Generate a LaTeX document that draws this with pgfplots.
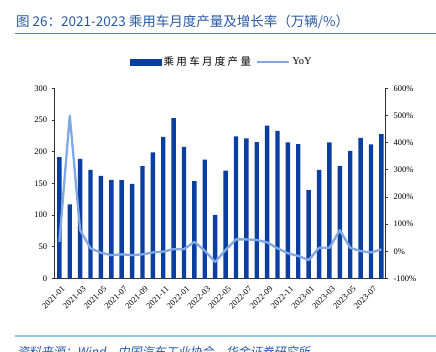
\documentclass[border=0pt]{standalone}
\usepackage{fontspec}
\setmainfont{Liberation Serif}
\newfontfamily\cjk{Noto Sans CJK SC}
\newfontfamily\cjkit{Noto Sans CJK SC}[FakeSlant=0.2]
\usepackage{pgfplots}
\pgfplotsset{compat=1.18}
\usepackage{pgfplotstable}
\definecolor{barblue}{RGB}{10,62,160}
\definecolor{lineblue}{RGB}{128,168,228}
\definecolor{titleblue}{RGB}{40,88,165}
\definecolor{titleline}{RGB}{75,130,192}
\definecolor{footline}{RGB}{150,195,228}
\definecolor{axgray}{RGB}{50,50,50}

\pgfplotstableread{
x prod
0 191.5
1 117
2 188.8
3 171.4
4 161.9
5 155.6
6 155
7 149.3
8 177.2
9 198.8
10 223.5
11 253
12 207.7
13 153.5
14 187.7
15 100.3
16 170.3
17 224
18 220.9
19 215.1
20 241
21 233
22 214.6
23 212
24 139.3
25 171.4
26 214.6
27 177.7
28 201.4
29 222
30 211.4
31 227.8
}\prodtable

\pgfplotstableread{
x yoy
0 35
1 499
2 78
3 11
4 -5
5 -14
6 -11
7 -14
8 -11
9 -4
10 -1
11 8
12 8
13 35
14 2
15 -39
16 5
17 44
18 44
19 42
20 33
21 11
22 -7
23 -17
24 -32
25 13
26 13
27 78
28 13
29 1
30 -4
31 7
}\yoytable

\begin{document}
\begin{tikzpicture}[x=1bp,y=1bp]
\useasboundingbox (0,0) rectangle (436,-351);
% title
\node[anchor=west, text=titleblue, inner sep=0pt, font=\cjk\fontsize{13.5bp}{16bp}\selectfont] at (16,-22) {图 26：2021-2023 乘用车月度产量及增长率（万辆/\%）};
\draw[titleline, line width=1.3bp] (15,-33.5) -- (436,-33.5);
% footer
\draw[footline, line width=1.6bp] (15,-336) -- (436,-336);
\node[anchor=west, text=titleblue, inner sep=0pt, font=\cjkit\fontsize{12bp}{14bp}\selectfont] at (17,-352) {资料来源：Wind，中国汽车工业协会，华金证券研究所};

\pgfplotsset{
  commonax/.style={
    scale only axis, width=330.3bp, height=190.2bp,
    at={(54.7bp,-278.5bp)}, anchor=south west,
    xmin=-0.45, xmax=31.35,
    axis line style={axgray, line width=0.8bp},
    tick style={axgray, line width=0.7bp},
    major tick length=3bp,
    tick align=outside,
    /pgf/number format/assume math mode=true,
    tick label style={font=\fontsize{8.5bp}{10bp}\selectfont, text=black},
  }
}

\begin{axis}[commonax,
  ymin=0, ymax=300,
  axis y line*=left, axis x line*=bottom,
  ytick={0,50,...,300},
  xtick={0,2,...,30},
  xticklabels={2021-01,2021-03,2021-05,2021-07,2021-09,2021-11,2022-01,2022-03,2022-05,2022-07,2022-09,2022-11,2023-01,2023-03,2023-05,2023-07},
  x tick label style={rotate=45, anchor=north east, inner sep=1pt, yshift=-3bp},
  xtick style={draw=none},
  yticklabel style={xshift=-1bp},
]
\addplot[ybar, bar width=4.4bp, fill=barblue, draw=none] table[x=x, y=prod] {\prodtable};
\end{axis}

\begin{axis}[commonax,
  ymin=-100, ymax=600,
  axis y line*=right, axis x line=none,
  ytick={-100,0,...,600},
  yticklabel={\pgfmathprintnumber{\tick}\%},
  yticklabel style={xshift=2bp},
  legend columns=2,
  legend style={draw=none, fill=none, at={(0.5065,1.138)}, anchor=center,
    font=\fontsize{10.5bp}{12bp}\selectfont,
    /tikz/every even column/.append style={column sep=3bp},
    inner sep=0pt},
]
\addlegendimage{legend image code/.code={\fill[barblue] (0bp,-2.7bp) rectangle (31bp,2.7bp);}}
\addlegendentry{{\cjk\addfontfeature{LetterSpace=22}乘用车月度产量}}
\addplot[lineblue, line width=2.3bp, line join=round, no marks,
  legend image code/.code={\draw[lineblue, line width=2.3bp] (0bp,0bp) -- (32bp,0bp);}]
  table[x=x, y=yoy] {\yoytable};
\addlegendentry{YoY}
\end{axis}
\end{tikzpicture}
\end{document}
